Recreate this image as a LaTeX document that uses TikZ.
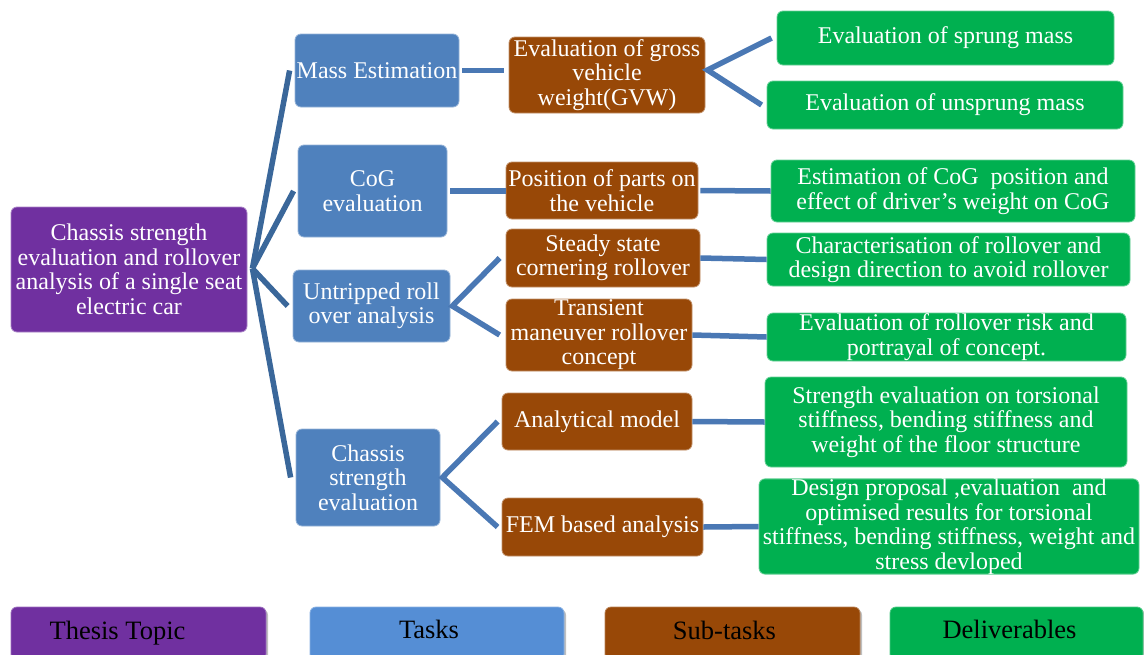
\documentclass[tikz,border=0pt]{standalone}
\usepackage{fontspec}
\setmainfont{Liberation Serif}
\usetikzlibrary{shadows}
\definecolor{topicC}{HTML}{7030A0}
\definecolor{taskC}{HTML}{4F81BD}
\definecolor{legtaskC}{HTML}{558ED5}
\definecolor{subC}{HTML}{984807}
\definecolor{delC}{HTML}{00B050}
\definecolor{lineA}{HTML}{3A679A}
\definecolor{lineB}{HTML}{4A78B4}
\tikzset{
  box/.style={rounded corners=6pt, inner sep=0pt, align=center, text=white,
    font=\fontsize{24}{24.5}\selectfont, line width=0.8pt},
  sz/.style 2 args={minimum width=#1pt, minimum height=#2pt},
  topicbox/.style={box, fill=topicC, draw=topicC!60!white},
  taskbox/.style={box, fill=taskC, draw=taskC!60!white},
  subbox/.style={box, fill=subC, draw=subC!60!white},
  delbox/.style={box, fill=delC, draw=delC!60!white},
  connA/.style={line width=5.5pt, draw=lineA},
  connB/.style={line width=5.5pt, draw=lineB},
  legbox/.style={rounded corners=6pt, inner sep=0pt, minimum height=53pt,
    draw=#1!70!white, line width=0.8pt, fill=#1,
    drop shadow={shadow xshift=2pt, shadow yshift=-2pt, fill=black, opacity=0.25}},
  legtext/.style={text=black, inner sep=0pt, font=\fontsize{26.5}{27}\selectfont},
}
\begin{document}
\begin{tikzpicture}[x=1pt, y=-1pt]
\useasboundingbox (0,0) rectangle (1144,654);

% thesis topic
\node[topicbox, sz={236}{125}] (topic) at (129,269.5)
  {Chassis strength\\evaluation and rollover\\analysis of a single seat\\electric car};

% tasks
\node[taskbox, sz={164}{73}] (mass) at (377,70.5) {Mass Estimation};
\node[taskbox, sz={149}{92}] (cog) at (372.5,191) {CoG\\evaluation};
\node[taskbox, sz={157}{72}] (untr) at (371.5,306) {Untripped roll\\over analysis};
\node[taskbox, sz={144}{97}] (chas) at (368,477.5) {Chassis\\strength\\evaluation};

% sub-tasks
\node[subbox, sz={196}{76}] (gvw) at (607,75) {Evaluation of gross\\vehicle\\weight(GVW)};
\node[subbox, sz={192}{57}] (pos) at (602,190.5) {Position of parts on\\the vehicle};
\node[subbox, sz={194}{58}] (steady) at (603,258) {Steady state\\cornering rollover};
\node[subbox, sz={186}{72}] (trans) at (599,335) {Transient\\maneuver rollover\\concept};
\node[subbox, sz={190}{57}] (anal) at (597,421.5) {Analytical model};
\node[subbox, sz={201}{58}] (fem) at (602.5,527) {FEM based analysis};

% deliverables
\node[delbox, sz={337}{54}] (d1) at (945.5,38) {Evaluation of sprung mass};
\node[delbox, sz={356}{48}] (d2) at (945,105) {Evaluation of unsprung mass};
\node[delbox, sz={364}{62}] (d3) at (953,191) {Estimation of CoG~ position and\\effect of driver's weight on CoG};
\node[delbox, sz={363}{53}] (d4) at (948.5,259.5) {Characterisation of rollover and\\design direction to avoid rollover};
\node[delbox, sz={359}{48}] (d5) at (946.5,337) {Evaluation of rollover risk and\\portrayal of concept.};
\node[delbox, sz={362}{90}] (d6) at (946,422) {Strength evaluation on torsional\\stiffness, bending stiffness and\\weight of the floor structure};
\node[delbox, sz={380}{95}] (d7) at (949,526.5) {Design proposal ,evaluation~ and\\optimised results for torsional\\stiffness, bending stiffness, weight and\\stress devloped};

% connectors: topic -> tasks
\coordinate (tj) at ([xshift=5pt, yshift=1pt]topic.east);
\draw[connA] (tj) -- ([xshift=-5pt]mass.west);
\draw[connA] (tj) -- ([xshift=-4pt]cog.west);
\draw[connA] (tj) -- ([xshift=-5pt]untr.west);
\draw[connA] (tj) -- ([xshift=-5pt]chas.west);

% tasks -> sub-tasks
\draw[connB] ([xshift=3pt]mass.east) -- ([xshift=-5pt]gvw.west |- mass.east);
\draw[connB] ([xshift=3pt]cog.east) -- (pos.west |- cog.east);
\coordinate (uj) at ([xshift=2pt]untr.east);
\draw[connB] ([xshift=-6pt]steady.west) -- (uj) -- ([xshift=-6pt]trans.west);
\coordinate (cj) at ([xshift=2pt]chas.east);
\draw[connB] ([xshift=-4pt]anal.west) -- (cj) -- ([xshift=-4pt]fem.west);

% sub-tasks -> deliverables
\coordinate (gj) at ([xshift=2pt, yshift=5pt]gvw.east);
\draw[connB] ([xshift=-5pt]d1.west) -- (gj) -- ([xshift=-5pt]d2.west);
\draw[connB] ([xshift=2pt]pos.east) -- (d3.west);
\draw[connB] (steady.east) -- (d4.west);
\draw[connB] (trans.east) -- (d5.west);
\draw[connB] (anal.east) -- (d6.west);
\draw[connB] (fem.east) -- (d7.west);

% legend
\node[legbox=topicC, minimum width=255pt] (l1) at (138.5,633.5) {};
\node[legbox=legtaskC, minimum width=254pt] (l2) at (437,633.5) {};
\node[legbox=subC, minimum width=255pt] (l3) at (732.5,633.5) {};
\node[legbox=delC, minimum width=253pt] (l4) at (1016.5,633.5) {};
\node[legtext] (t1) at ([xshift=-21pt]l1.center) {Thesis Topic};
\node[legtext] (t2) at ([xshift=-8pt, yshift=4pt]l2.center) {Tasks};
\node[legtext] (t3) at ([xshift=-8pt, yshift=3pt]l3.center) {Sub-tasks};
\node[legtext] (t4) at ([xshift=-7pt, yshift=4pt]l4.center) {Deliverables};
\end{tikzpicture}
\end{document}
